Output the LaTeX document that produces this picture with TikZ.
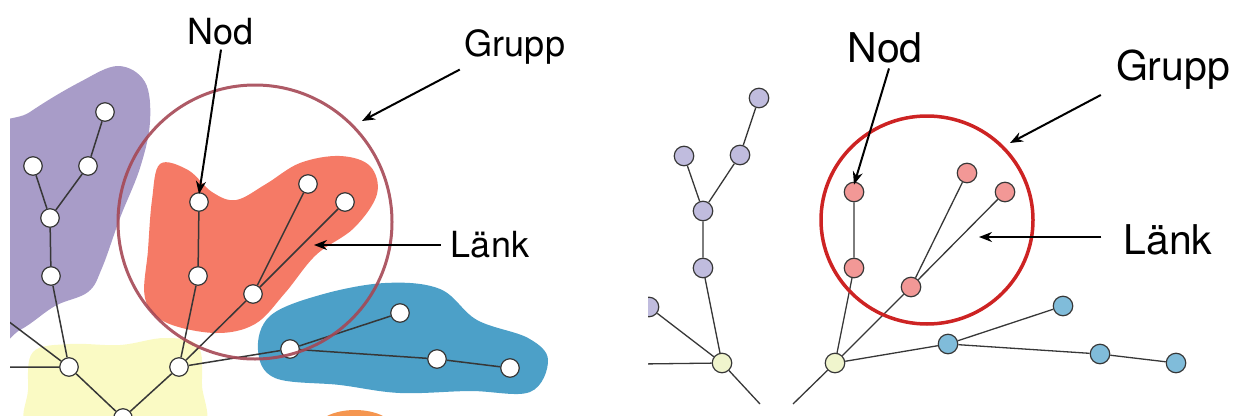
\documentclass[tikz,border=0pt]{standalone}
\usepackage{fontspec}
\setmainfont{TeX Gyre Heros}
\usetikzlibrary{arrows.meta}
\definecolor{blobpurple}{RGB}{168,156,200}
\definecolor{blobred}{RGB}{245,122,102}
\definecolor{blobyellow}{RGB}{250,250,196}
\definecolor{blobblue}{RGB}{76,160,200}
\definecolor{bloborange}{RGB}{245,150,80}
\definecolor{ringleft}{RGB}{165,72,85}
\definecolor{ringright}{RGB}{205,35,35}
\definecolor{npurple}{RGB}{192,188,222}
\definecolor{nred}{RGB}{242,152,150}
\definecolor{nyellow}{RGB}{240,245,205}
\definecolor{nblue}{RGB}{128,188,218}
\definecolor{edgegray}{RGB}{55,55,55}
\tikzset{
  wnode/.style={circle,draw=edgegray,line width=1.2pt,fill=white,minimum size=18.5pt,inner sep=0pt},
  cnode/.style={circle,draw=edgegray,line width=1.2pt,fill=#1,minimum size=19.5pt,inner sep=0pt},
  edge/.style={draw=edgegray,line width=1.5pt},
  redge/.style={draw=edgegray,line width=1.3pt},
  pointer/.style={draw=black,line width=2pt,-{Stealth[length=13pt,width=10pt]}},
  lbl/.style={font=\fontsize{36}{40}\selectfont,inner sep=0pt},
  rlbl/.style={font=\fontsize{41}{45}\selectfont,inner sep=0pt},
}
\begin{document}
\begin{tikzpicture}[x=1pt,y=-1pt]
\useasboundingbox (0,0) rectangle (1236,415);
% ---------- left panel ----------
\begin{scope}
\clip (10,0) rectangle (625,415);
\fill[blobpurple] plot[smooth cycle,tension=0.6] coordinates {(-20,150) (30,112) (80,82) (118,66) (145,82) (150,122) (140,168) (120,218) (102,268) (88,292) (55,306) (20,330) (-20,345)};
\fill[blobyellow] plot[smooth cycle,tension=0.6] coordinates {(33,352) (70,344) (120,345) (165,338) (198,346) (202,385) (200,430) (110,432) (30,428) (28,390)};
\fill[blobred] plot[smooth cycle,tension=0.6] coordinates {(160,164) (188,170) (212,192) (236,200) (266,184) (300,163) (340,156) (370,166) (377,194) (354,228) (316,255) (285,293) (255,324) (215,333) (165,322) (145,298) (148,250) (152,200)};
\fill[blobblue] plot[smooth cycle,tension=0.6] coordinates {(270,316) (320,295) (385,283) (440,289) (477,320) (528,338) (548,360) (530,392) (470,391) (400,393) (340,385) (275,378) (258,350)};
\fill[bloborange] (355,431) ellipse[x radius=40,y radius=21];
% nodes
\node[wnode] (p1) at (105,112) {};
\node[wnode] (p2) at (33,166) {};
\node[wnode] (p3) at (88,166) {};
\node[wnode] (p4) at (50,218) {};
\node[wnode] (p5) at (51,276) {};
\node[wnode] (y1) at (69,367) {};
\node[wnode] (y2) at (179,367) {};
\node[wnode] (y3) at (123,418) {};
\node[wnode] (r1) at (199,202) {};
\node[wnode] (r2) at (308,184) {};
\node[wnode] (r3) at (345,202) {};
\node[wnode] (r4) at (198,276) {};
\node[wnode] (r5) at (253,294) {};
\node[wnode] (b1) at (290,349) {};
\node[wnode] (b2) at (400,313) {};
\node[wnode] (b3) at (437,359) {};
\node[wnode] (b4) at (510,368) {};
\coordinate (lw1) at (8,367);
\coordinate (lw2) at (8,321);
\path[edge] (p1) -- (p3) (p3) -- (p4) (p2) -- (p4) (p4) -- (p5) (p5) -- (y1)
  (lw1) -- (y1) (lw2) -- (y1) (y1) -- (y3) (y2) -- (y3)
  (r1) -- (r4) (r4) -- (y2) (r2) -- (r5) (r3) -- (r5) (r5) -- (y2)
  (y2) -- (b1) (b1) -- (b2) (b1) -- (b3) (b3) -- (b4);
\draw[ringleft,line width=3pt,opacity=0.9] (255,222) circle[x radius=137,y radius=137];
\end{scope}
\coordinate (lring) at (362,121);
\node[lbl] (lnod) at (221,32) {Nod};
\node[lbl] (lgrupp) at (515,47) {Grupp};
\node[lbl] (llank) at (490,245) {Länk};
\coordinate (llinkpt) at (314,245);
\draw[pointer] (lnod.south) ++(0,4) -- ([yshift=-2pt]r1.north);
\draw[pointer] (lgrupp.south west) ++(-5,5) -- (lring);
\draw[pointer] (llank.west) ++(-10,0) -- (llinkpt);
% ---------- right panel ----------
\begin{scope}
\clip (648,0) rectangle (1236,415);
\coordinate (rw1) at (640,364);
\coordinate (rd1) at (760,404);
\coordinate (rd2) at (793,404);
\node[cnode=npurple] (q1) at (759,98) {};
\node[cnode=npurple] (q2) at (684,156) {};
\node[cnode=npurple] (q3) at (740,155) {};
\node[cnode=npurple] (q4) at (703,211) {};
\node[cnode=npurple] (q5) at (703,268) {};
\node[cnode=npurple] (q6) at (649,307) {};
\node[cnode=nyellow] (z1) at (722,363) {};
\node[cnode=nyellow] (z2) at (835,363) {};
\node[cnode=nred] (s1) at (854,192) {};
\node[cnode=nred] (s2) at (967,173) {};
\node[cnode=nred] (s3) at (1005,192) {};
\node[cnode=nred] (s4) at (854,268) {};
\node[cnode=nred] (s5) at (911,287) {};
\node[cnode=nblue] (c1) at (948,344) {};
\node[cnode=nblue] (c2) at (1063,306) {};
\node[cnode=nblue] (c3) at (1100,354) {};
\node[cnode=nblue] (c4) at (1176,363) {};
\path[redge] (q1) -- (q3) (q3) -- (q4) (q2) -- (q4) (q4) -- (q5) (q5) -- (z1)
  (q6) -- (z1) (rw1) -- (z1) (z1) -- (rd1) (z2) -- (rd2)
  (s1) -- (s4) (s4) -- (z2) (s2) -- (s5) (s3) -- (s5) (s5) -- (z2)
  (z2) -- (c1) (c1) -- (c2) (c1) -- (c3) (c3) -- (c4);
\draw[ringright,line width=3.5pt] (927,220) circle[x radius=106,y radius=104];
\end{scope}
\coordinate (rring) at (1010,143);
\coordinate (rlinkpt) at (979,237);
\node[rlbl] (rnod) at (885,48) {Nod};
\node[rlbl] (rgrupp) at (1173,70) {Grupp};
\node[rlbl] (rlank) at (1168,240) {Länk};
\draw[pointer] (rnod.south) ++(4,5) -- ([yshift=-3pt]s1.north);
\draw[pointer] (rgrupp.south west) ++(-15,5) -- (rring);
\draw[pointer] (rlank.west) ++(-22,-3) -- (rlinkpt);
\end{tikzpicture}
\end{document}
